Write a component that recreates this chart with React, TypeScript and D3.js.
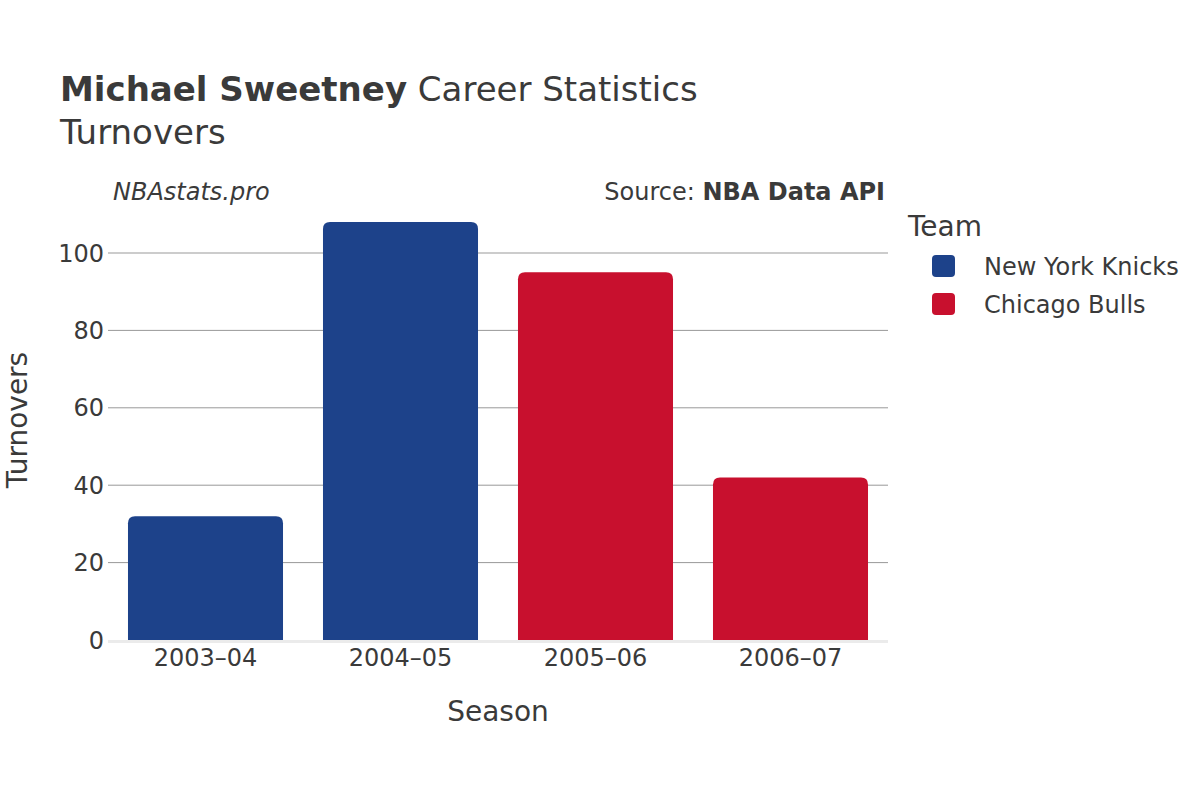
import React from "react";
import * as d3 from "d3";

const seasons = ["2003–04", "2004–05", "2005–06", "2006–07"];
const turnovers = [32, 108, 95, 42];
const teams = ["New York Knicks", "New York Knicks", "Chicago Bulls", "Chicago Bulls"];
const legendTeams = ["New York Knicks", "Chicago Bulls"];
const teamColors = ["#1D428A", "#C8102E"];
const yTicks = [0, 20, 40, 60, 80, 100];

const W = 1200;
const H = 800;
const plotLeft = 108;
const plotRight = 888;
const FONT = "'DejaVu Sans', sans-serif";
const TXT = "#3a3a3a";

function roundedTopRect(x: number, y: number, w: number, h: number, r: number) {
  const rr = Math.min(r, h / 2, w / 2);
  return `M${x},${y + h}V${y + rr}Q${x},${y} ${x + rr},${y}H${x + w - rr}Q${x + w},${y} ${x + w},${y + rr}V${y + h}Z`;
}

export default function App() {
  const x = d3.scaleBand<string>().domain(seasons).range([plotLeft, plotRight]).paddingInner(0.205).paddingOuter(0.1025);
  const y = d3.scaleLinear().domain([0, 100]).range([640, 253]);
  const color = d3.scaleOrdinal<string, string>().domain(legendTeams).range(teamColors);

  return (
    <svg width={W} height={H} style={{ display: "block", position: "absolute", left: 0, top: 0, background: "#fff" }} fontFamily={FONT}>
      <rect width={W} height={H} fill="#fff" />
      <text x={60} y={101} fontSize={34} fill={TXT}>
        <tspan fontWeight="bold">Michael Sweetney</tspan>
        <tspan> Career Statistics</tspan>
      </text>
      <text x={60} y={144} fontSize={34} fill={TXT}>Turnovers</text>

      <text x={113} y={200} fontSize={24} fontStyle="italic" fill={TXT}>NBAstats.pro</text>
      <text x={885} y={200} fontSize={24} textAnchor="end" fill={TXT}>
        <tspan>Source: </tspan>
        <tspan fontWeight="bold">NBA Data API</tspan>
      </text>

      {yTicks.filter((t) => t > 0).map((t) => (
        <line key={t} x1={plotLeft} x2={plotRight} y1={y(t)} y2={y(t)} stroke="#999" strokeWidth={1} />
      ))}
      {yTicks.map((t) => (
        <text key={"l" + t} x={104} y={y(t) + 8.5} fontSize={24} textAnchor="end" fill={TXT}>{t}</text>
      ))}

      {seasons.map((s, i) => {
        const bx = x(s)!;
        const by = y(turnovers[i]);
        return (
          <path key={s} d={roundedTopRect(bx, by, x.bandwidth(), y(0) - by, 7)} fill={color(teams[i])} />
        );
      })}
      <line x1={plotLeft} x2={plotRight} y1={y(0) + 1.5} y2={y(0) + 1.5} stroke="#ebebeb" strokeWidth={3} />

      {seasons.map((s) => (
        <text key={"x" + s} x={x(s)! + x.bandwidth() / 2} y={666} fontSize={24} textAnchor="middle" fill={TXT}>{s}</text>
      ))}

      <text x={498} y={721} fontSize={28} textAnchor="middle" fill={TXT}>Season</text>
      <text transform={`translate(27,420) rotate(-90)`} fontSize={28} textAnchor="middle" fill={TXT}>Turnovers</text>

      <text x={908} y={236} fontSize={28} fill={TXT}>Team</text>
      {legendTeams.map((t, i) => (
        <g key={t} transform={`translate(0,${i * 38})`}>
          <rect x={932} y={255} width={23} height={22} rx={4} fill={color(t)} />
          <text x={984} y={275} fontSize={24} fill={TXT}>{t}</text>
        </g>
      ))}
    </svg>
  );
}
